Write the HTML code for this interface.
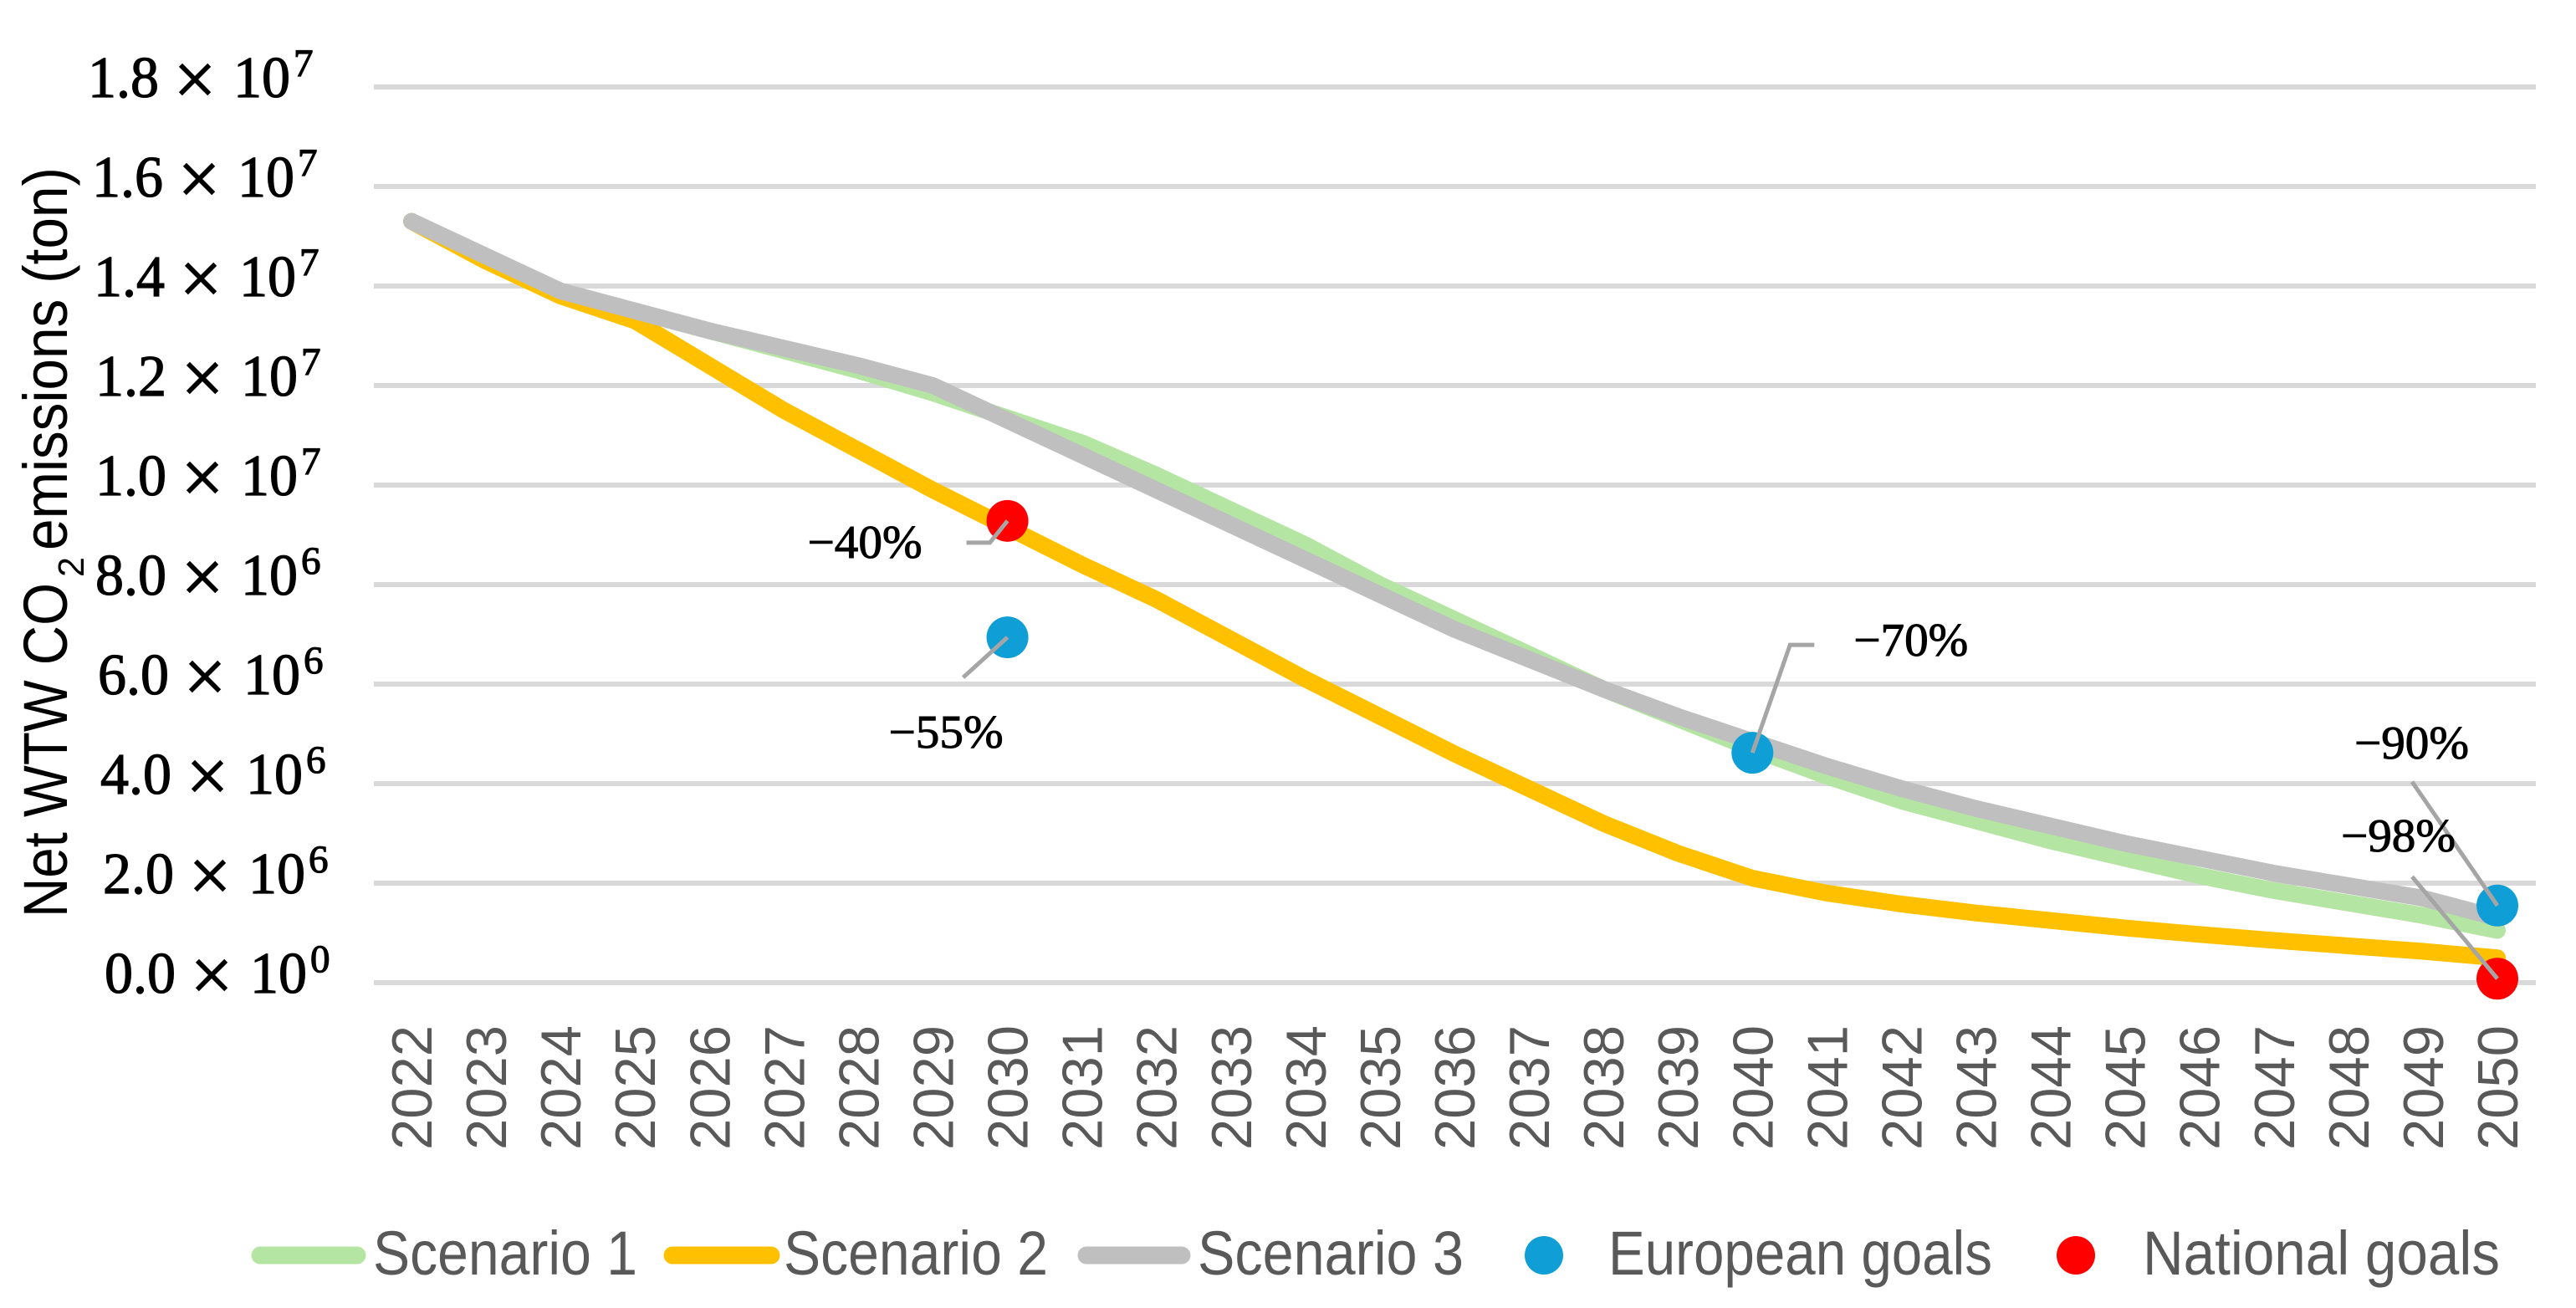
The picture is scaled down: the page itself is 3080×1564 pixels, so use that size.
<!DOCTYPE html>
<html><head><meta charset="utf-8"><style>
html,body{margin:0;padding:0;background:#fff;}
svg{display:block;}
</style></head><body>
<svg id="chart" width="3080" height="1564" viewBox="0 0 3080 1564" xmlns="http://www.w3.org/2000/svg">
<rect width="3080" height="1564" fill="#fff"/>
<g id="grid"></g>
<g id="yticks"></g>
<g id="xticks"></g>
<g id="series"></g>
<g id="annots"></g>
<g font-family="'Liberation Sans', sans-serif" fill="#000">
  <text transform="translate(80,1097) rotate(-90)" font-size="74" textLength="400" lengthAdjust="spacingAndGlyphs">Net WTW CO</text>
  <text transform="translate(100,690) rotate(-90)" font-size="44" textLength="24" lengthAdjust="spacingAndGlyphs">2</text>
  <text transform="translate(80,658) rotate(-90)" font-size="74" textLength="458" lengthAdjust="spacingAndGlyphs">emissions (ton)</text>
</g>
<g id="legend" font-family="'Liberation Sans', sans-serif" fill="#595959" font-size="74">
  <line x1="311" y1="1501" x2="427" y2="1501" stroke="#b4e5a2" stroke-width="21" stroke-linecap="round"/>
  <text x="446" y="1524" textLength="316" lengthAdjust="spacingAndGlyphs">Scenario 1</text>
  <line x1="804" y1="1501" x2="922" y2="1501" stroke="#ffc000" stroke-width="21" stroke-linecap="round"/>
  <text x="937" y="1524" textLength="316" lengthAdjust="spacingAndGlyphs">Scenario 2</text>
  <line x1="1299" y1="1501" x2="1413" y2="1501" stroke="#bfbfbf" stroke-width="21" stroke-linecap="round"/>
  <text x="1432" y="1524" textLength="318" lengthAdjust="spacingAndGlyphs">Scenario 3</text>
  <circle cx="1846" cy="1501" r="23" fill="#0f9ed5"/>
  <text x="1923" y="1524" textLength="459" lengthAdjust="spacingAndGlyphs">European goals</text>
  <circle cx="2482" cy="1501" r="23" fill="#ff0000"/>
  <text x="2562" y="1524" textLength="427" lengthAdjust="spacingAndGlyphs">National goals</text>
</g>
</svg>
<script>
// values in millions of tonnes (×10^6)
const years = [2022,2023,2024,2025,2026,2027,2028,2029,2030,2031,2032,2033,2034,2035,2036,2037,2038,2039,2040,2041,2042,2043,2044,2045,2046,2047,2048,2049,2050];
const scenario1 = [15.3,14.6,13.9,13.5,13.1,12.7,12.3,11.85,11.35,10.85,10.2,9.5,8.8,8.0,7.3,6.6,5.9,5.3,4.7,4.15,3.65,3.25,2.85,2.5,2.15,1.85,1.6,1.35,1.05];
const scenario2 = [15.3,14.5,13.8,13.3,12.4,11.5,10.7,9.9,9.15,8.4,7.7,6.9,6.1,5.35,4.6,3.9,3.2,2.6,2.1,1.8,1.58,1.4,1.25,1.1,0.97,0.85,0.74,0.63,0.5];
const scenario3 = [15.3,14.6,13.9,13.5,13.1,12.75,12.4,12.0,11.3,10.6,9.9,9.2,8.5,7.8,7.1,6.5,5.9,5.35,4.85,4.35,3.9,3.5,3.15,2.8,2.5,2.2,1.95,1.7,1.3];
const euroYears = [2030,2040,2050];
const euroValues = [6.94,4.62,1.55];
const euroLabels = ["\u221255%","\u221270%","\u221290%"];
const natYears = [2030,2050];
const natValues = [9.28,0.08];
const natLabels = ["\u221240%","\u221298%"];
const yTickMantissa = ["0.0","2.0","4.0","6.0","8.0","1.0","1.2","1.4","1.6","1.8"];
const yTickExp = ["0","6","6","6","6","7","7","7","7","7"];
const yTickValues = [0,2,4,6,8,10,12,14,16,18];

const NS="http://www.w3.org/2000/svg";
const X0=492, XSTEP=(2986-492)/28, Y0=1175, YPER=59.5;
function xs(yr){return X0+(yr-2022)*XSTEP;}
function ys(v){return Y0-v*YPER;}
function mk(tag,attrs,parent){const e=document.createElementNS(NS,tag);for(const k in attrs)e.setAttribute(k,attrs[k]);parent.appendChild(e);return e;}

const grid=document.getElementById('grid');
const yt=document.getElementById('yticks');
const xStarts=[125,123,120,117,114,114,114,112,110,105];
yTickValues.forEach((v,i)=>{
  const l=mk('line',{x1:447,x2:3032,y1:ys(v),y2:ys(v),stroke:'#d9d9d9','stroke-width':6},grid);
  
  
  const x0=xStarts[i];
  const base=ys(v)+12;
  const g=mk('g',{'font-family':"'Liberation Serif', serif",fill:'#000',stroke:'#000','stroke-width':1.2},yt);
  
  
  const t1=mk('text',{x:x0,y:base,'font-size':70,textLength:85,lengthAdjust:'spacingAndGlyphs'},g);t1.textContent=yTickMantissa[i];
  const t2=mk('text',{x:x0+128,y:base+9,'font-size':90,'text-anchor':'middle'},g);t2.textContent='\u00d7';
  const t3=mk('text',{x:x0+174,y:base,'font-size':70,textLength:68,lengthAdjust:'spacingAndGlyphs'},g);t3.textContent='10';
  const t4=mk('text',{x:x0+246,y:base-25,'font-size':47},g);t4.textContent=yTickExp[i];
});

const xt=document.getElementById('xticks');
years.forEach(yr=>{
  const t=mk('text',{transform:`translate(${xs(yr)+24},1226) rotate(-90)`,'text-anchor':'end','font-family':"'Liberation Sans', sans-serif",'font-size':68,fill:'#595959',textLength:149,lengthAdjust:'spacingAndGlyphs'},xt);
  
  
  t.textContent=yr;
});

const ser=document.getElementById('series');
[[scenario1,'#b4e5a2','scenario-1-line'],[scenario2,'#ffc000','scenario-2-line'],[scenario3,'#bfbfbf','scenario-3-line']].forEach(([d,c,n])=>{
  const p=mk('polyline',{points:d.map((v,i)=>xs(years[i])+','+ys(v)).join(' '),fill:'none',stroke:c,'stroke-width':20,'stroke-linejoin':'round','stroke-linecap':'round'},ser);
  
  
});

const an=document.getElementById('annots');
const euroOff=[{lx:-53,ly:48,tx:-142,ty:113},{lx:45,ly:-129,hx:74,tx:121,ty:-135},{lx:-102,ly:-148,tx:-171,ty:-195}];
const natOff=[{lx:-21,ly:26,hx:-49,tx:-239,ty:25},{lx:-102,ly:-122,tx:-187,ty:-171}];
function drawPts(yrsA,vals,labels,offs,color,name){
  yrsA.forEach((yr,i)=>{
    const cx=xs(yr),cy=ys(vals[i]);const o=offs[i];
    const c=mk('circle',{cx:cx,cy:cy,r:25,fill:color},an);
    
    
    let pts=cx+','+cy+' '+(cx+o.lx)+','+(cy+o.ly);
    if(o.hx!==undefined) pts+=' '+(cx+o.hx)+','+(cy+o.ly);
    const l=mk('polyline',{points:pts,fill:'none',stroke:'#a5a5a5','stroke-width':5},an);
    
    
    const t=mk('text',{x:cx+o.tx,y:cy+o.ty+19,'font-family':"'Liberation Serif', serif",'font-size':56,fill:'#000',stroke:'#000','stroke-width':1,textLength:137,lengthAdjust:'spacingAndGlyphs'},an);
    
    
    t.textContent=labels[i];
  });
}
drawPts(euroYears,euroValues,euroLabels,euroOff,'#0f9ed5','european-goal');
drawPts(natYears,natValues,natLabels,natOff,'#ff0000','national-goal');
</script>
</body></html>
